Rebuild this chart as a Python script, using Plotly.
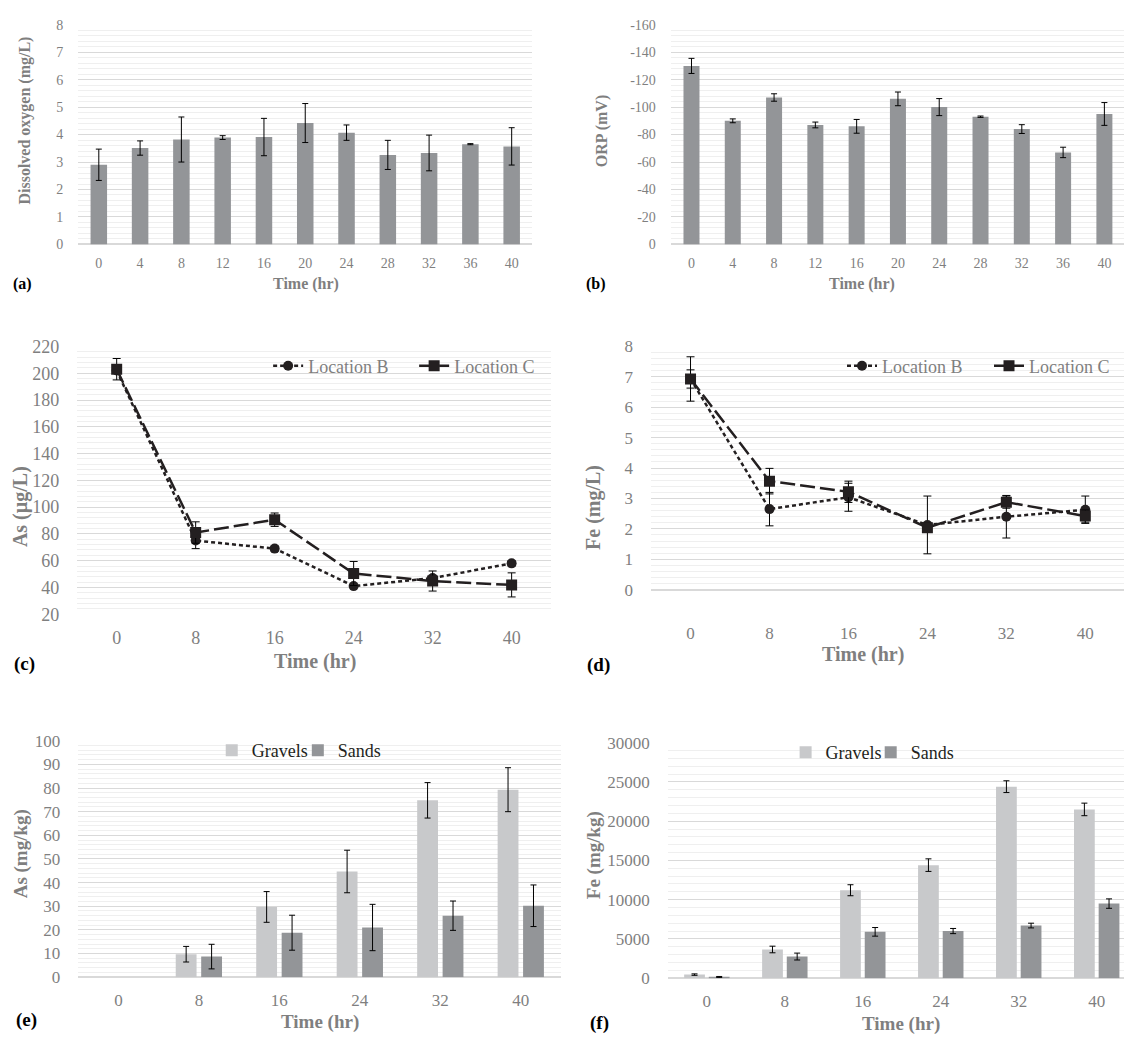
import plotly.graph_objects as go

W, H = 1136, 1046

# ---------------- data ----------------
time_ab = [0, 4, 8, 12, 16, 20, 24, 28, 32, 36, 40]
do_mean = [2.90, 3.51, 3.82, 3.89, 3.91, 4.42, 4.07, 3.26, 3.33, 3.65, 3.57]
do_err = [0.57, 0.26, 0.82, 0.07, 0.68, 0.71, 0.28, 0.53, 0.65, 0.02, 0.68]

orp_mean = [-130, -90, -107, -87, -86, -106, -100, -93, -84, -67, -95]
orp_err = [5.5, 1.4, 2.7, 2.1, 5.0, 5.0, 6.2, 0.5, 3.2, 3.8, 8.3]
orp_tickvals = [0, -20, -40, -60, -80, -100, -120, -140, -160]
orp_ticktext = ["0", "-20", "-40", "-60", "-80", "-100", "-120", "-140", "-160"]

time_cdef = [0, 8, 16, 24, 32, 40]
as_B = [202, 75, 69, 41, 47, 58]
as_B_err = [2, 6, 2, 1, 2, 2]
as_C = [203, 81, 90.6, 50.4, 44.8, 41.9]
as_C_err = [8, 8, 5, 9, 7.5, 9]

fe_B = [6.93, 2.65, 3.04, 2.13, 2.40, 2.63]
fe_B_err = [0.3, 0.55, 0.46, 0.95, 0.70, 0.45]
fe_C = [6.93, 3.57, 3.22, 2.04, 2.88, 2.42]
fe_C_err = [0.73, 0.42, 0.35, 0.15, 0.20, 0.20]

# no bar drawn at 0 h for As in solids
as_gravel = [None, 9.7, 29.7, 44.7, 74.8, 79.3]
as_gravel_err = [0, 3.3, 6.5, 9.0, 7.5, 9.3]
as_sand = [None, 8.7, 18.8, 21.0, 26.0, 30.2]
as_sand_err = [0, 5.2, 7.4, 9.8, 6.2, 8.8]

fe_gravel = [450, 3650, 11200, 14400, 24400, 21500]
fe_gravel_err = [90, 420, 700, 800, 750, 800]
fe_sand = [150, 2750, 5900, 6000, 6700, 9500]
fe_sand_err = [60, 440, 550, 330, 300, 600]

# ---------------- styles ----------------
SERIF = "Liberation Serif"
GRAY_TXT = "#7f7f7f"
BAR_DARK = "#939598"
BAR_LIGHT = "#c8c9cb"
INK = "#231f20"
GRID = "#d9d9d9"
MINOR = "#efefef"


def dom_x(a, b):
    return [a / W, min(b / W, 1.0)]


def dom_y(top, bottom):
    return [1 - bottom / H, 1 - top / H]


def err(arr, w=3):
    return dict(type="data", array=arr, visible=True, color="black", thickness=1, width=w)


fig = go.Figure()

# (a) dissolved oxygen
fig.add_trace(go.Bar(x=time_ab, y=do_mean, error_y=err(do_err), width=1.6,
                     marker=dict(color=BAR_DARK, line=dict(width=0)), showlegend=False,
                     xaxis="x", yaxis="y"))
# (b) ORP
fig.add_trace(go.Bar(x=time_ab, y=orp_mean, error_y=err(orp_err), width=1.55,
                     marker=dict(color=BAR_DARK, line=dict(width=0)), showlegend=False,
                     xaxis="x2", yaxis="y2"))

# (c) As in water
fig.add_trace(go.Scatter(x=time_cdef, y=as_B, mode="lines+markers", name="Location B",
                         line=dict(color=INK, width=2.5, dash="4px,3px"),
                         marker=dict(symbol="circle", size=10, color=INK),
                         error_y=err(as_B_err, 4), legend="legend", xaxis="x3", yaxis="y3"))
fig.add_trace(go.Scatter(x=time_cdef, y=as_C, mode="lines+markers", name="Location C",
                         line=dict(color=INK, width=2.5, dash="15px,5px"),
                         marker=dict(symbol="square", size=11, color=INK),
                         error_y=err(as_C_err, 4), legend="legend", xaxis="x3", yaxis="y3"))

# (d) Fe in water
fig.add_trace(go.Scatter(x=time_cdef, y=fe_B, mode="lines+markers", name="Location B",
                         line=dict(color=INK, width=2.5, dash="4px,3px"),
                         marker=dict(symbol="circle", size=10, color=INK),
                         error_y=err(fe_B_err, 4), legend="legend2", xaxis="x4", yaxis="y4"))
fig.add_trace(go.Scatter(x=time_cdef, y=fe_C, mode="lines+markers", name="Location C",
                         line=dict(color=INK, width=2.5, dash="15px,5px"),
                         marker=dict(symbol="square", size=11, color=INK),
                         error_y=err(fe_C_err, 4), legend="legend2", xaxis="x4", yaxis="y4"))

# (e) As in solids
fig.add_trace(go.Bar(x=time_cdef, y=as_gravel, name="Gravels", width=2.07, offset=-2.3,
                     marker=dict(color=BAR_LIGHT, line=dict(width=0)),
                     error_y=err(as_gravel_err), legend="legend3", xaxis="x5", yaxis="y5"))
fig.add_trace(go.Bar(x=time_cdef, y=as_sand, name="Sands", width=2.07, offset=0.23,
                     marker=dict(color=BAR_DARK, line=dict(width=0)),
                     error_y=err(as_sand_err), legend="legend5", xaxis="x5", yaxis="y5"))

# (f) Fe in solids
fig.add_trace(go.Bar(x=time_cdef, y=fe_gravel, name="Gravels", width=2.13, offset=-2.33,
                     marker=dict(color=BAR_LIGHT, line=dict(width=0)),
                     error_y=err(fe_gravel_err), legend="legend4", xaxis="x6", yaxis="y6"))
fig.add_trace(go.Bar(x=time_cdef, y=fe_sand, name="Sands", width=2.13, offset=0.2,
                     marker=dict(color=BAR_DARK, line=dict(width=0)),
                     error_y=err(fe_sand_err), legend="legend6", xaxis="x6", yaxis="y6"))


def xax(domain, rng, tickvals, size, standoff, anchor):
    return dict(domain=domain, range=rng, tickmode="array", tickvals=tickvals,
                showgrid=False, zeroline=False, showline=False, ticks="",
                tickfont=dict(family=SERIF, size=size, color=GRAY_TXT),
                ticklabelstandoff=standoff, anchor=anchor, fixedrange=True)


def yax(domain, rng, dtick, minor, size, standoff, anchor, **kw):
    d = dict(domain=domain, range=rng, dtick=dtick, tick0=0,
             showgrid=True, gridcolor=GRID, gridwidth=1,
             minor=dict(tickmode="linear", tick0=0, dtick=minor, showgrid=True,
                        gridcolor=MINOR, gridwidth=1),
             zeroline=True, zerolinecolor=GRID, zerolinewidth=1.5,
             showline=False, ticks="", tickformat="d",
             tickfont=dict(family=SERIF, size=size, color=GRAY_TXT),
             ticklabelstandoff=standoff, anchor=anchor, fixedrange=True)
    d.update(kw)
    return d


fig.update_layout(
    width=W, height=H, autosize=False,
    margin=dict(l=0, r=0, t=0, b=0),
    paper_bgcolor="white", plot_bgcolor="white",
    barmode="overlay",
    xaxis=xax(dom_x(79, 538), [-2, 42], time_ab, 14, 9, "y"),
    yaxis=yax(dom_y(15, 239), [0, 8], 1, 0.2, 14, 14, "x"),
    xaxis2=xax(dom_x(678, 1136), [-2, 41.9], time_ab, 14, 9, "y2"),
    yaxis2=yax(dom_y(15, 239), [0, -160], 20, 4, 14, 14, "x2",
               tickmode="array", tickvals=orp_tickvals, ticktext=orp_ticktext),
    xaxis3=xax(dom_x(78, 557), [-4, 44], time_cdef, 18, 11, "y3"),
    yaxis3=yax(dom_y(343, 616), [20, 220], 20, 4, 18, 17, "x3", tick0=20),
    xaxis4=xax(dom_x(658, 1136), [-4, 43.92], time_cdef, 17, 31, "y4"),
    yaxis4=yax(dom_y(343, 591), [0, 8], 1, 0.2, 17, 17, "x4"),
    xaxis5=xax(dom_x(79, 567), [-4, 44], time_cdef, 17, 11, "y5"),
    yaxis5=yax(dom_y(745, 986), [0, 100], 10, 2, 17, 17, "x5"),
    xaxis6=xax(dom_x(675, 1136), [-4, 42.8], time_cdef, 17, 11, "y6"),
    yaxis6=yax(dom_y(747, 987), [0, 30000], 5000, 1000, 17, 17, "x6"),
)

leg_common = dict(orientation="h", bgcolor="rgba(0,0,0,0)", borderwidth=0,
                  xanchor="left", yanchor="middle", itemclick=False, itemdoubleclick=False)
LEG_GRAY = dict(family=SERIF, size=18, color=GRAY_TXT)
LEG_DARK = dict(family=SERIF, size=18, color="#231f20")
fig.update_layout(
    legend=dict(x=271 / W, y=1 - 363 / H, font=LEG_GRAY, entrywidth=101, **leg_common),
    legend2=dict(x=851 / W, y=1 - 363 / H, font=LEG_GRAY, entrywidth=102, **leg_common),
    legend3=dict(x=214 / W, y=1 - 755 / H, font=LEG_DARK, **leg_common),
    legend5=dict(x=301 / W, y=1 - 755 / H, font=LEG_DARK, **leg_common),
    legend4=dict(x=794 / W, y=1 - 757 / H, font=LEG_DARK, **leg_common),
    legend6=dict(x=880 / W, y=1 - 757 / H, font=LEG_DARK, **leg_common),
)


def ann(text, x, y, size, color=GRAY_TXT, angle=0, bold=True):
    fig.add_annotation(text=f"<b>{text}</b>" if bold else text, x=x / W, y=1 - y / H,
                       xref="paper", yref="paper", showarrow=False, textangle=angle,
                       xanchor="center", yanchor="middle",
                       font=dict(family=SERIF, size=size, color=color))


# axis titles
ann("Dissolved oxygen (mg/L)", 25, 113, 16, angle=-90)
ann("Time (hr)", 309, 279, 16)
ann("ORP (mV)", 608, 124, 16, angle=-90)
ann("Time (hr)", 871, 279, 16)
ann("As (µg/L)", 21, 506, 20, angle=-90)
ann("Time (hr)", 318, 664, 20)
ann("Fe (mg/L)", 600, 507, 20, angle=-90)
ann("Time (hr)", 872, 657, 20)
ann("As (mg/kg)", 21, 860, 19, angle=-90)
ann("Time (hr)", 323, 1032, 19)
ann("Fe (mg/kg)", 600, 862, 19, angle=-90)
ann("Time (hr)", 911, 1034, 19)

# panel labels
ann("(a)", 23, 279, 16, color="black")
ann("(b)", 602, 279, 16, color="black")
ann("(c)", 25, 667, 19, color="black")
ann("(d)", 605, 668, 19, color="black")
ann("(e)", 27, 1030, 19, color="black")
ann("(f)", 606, 1033, 19, color="black")

PAGE_FIX = (
    "var gd=document.getElementById('{plot_id}');"
    "document.documentElement.style.margin='0';"
    "document.documentElement.style.overflow='hidden';"
    "document.body.style.margin='0';document.body.style.padding='0';"
    "document.body.style.overflow='hidden';"
    "gd.style.position='absolute';gd.style.left='0px';gd.style.top='0px';"
)

fig.write_html("out.html", config={"displayModeBar": False, "responsive": False},
               post_script=PAGE_FIX)
